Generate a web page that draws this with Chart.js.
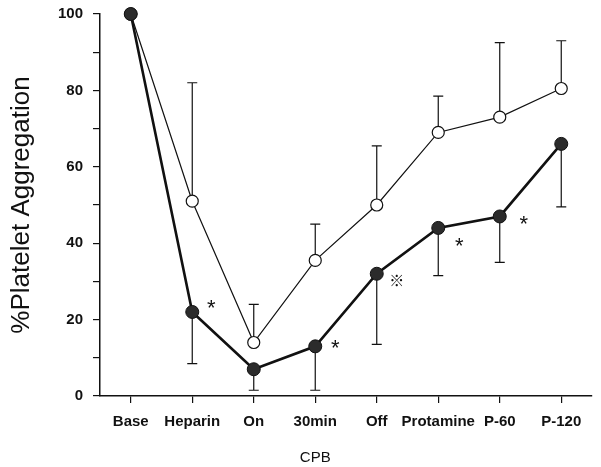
<!DOCTYPE html>
<html><head><meta charset="utf-8">
<script src="https://cdn.jsdelivr.net/npm/chart.js@4"></script>
<style>html,body{margin:0;padding:0;background:#fff}</style>
</head><body>
<canvas id="c" width="601" height="467"></canvas>
<script>
// values
const stages = ["Base", "Heparin", "On", "30min", "Off", "Protamine", "P-60", "P-120"];
const openMean = [100, 51, 14, 35.5, 50, 69, 73, 80.5];
const openUpper = [null, 82, 24, 45, 65.5, 78.5, 92.5, 93];
const filledMean = [100, 22, 7, 13, 32, 44, 47, 66];
const filledLower = [null, 8.5, 1.5, 1.5, 13.5, 31.5, 35, 49.5];
const filledMarks = ["", "*", "", "*", "※", "*", "*", ""];
const yTicks = [0, 20, 40, 60, 80, 100];
const groupLabel = "CPB";   // spans On / 30min / Off

const ink = '#111';

// where each significance mark sits relative to its point (px)
const markNudge = [null, [19, -5], null, [20, 1], [20, 8], [21, 17], [24, 6], null];

const extras = {
  id: 'extras',
  beforeDatasetsDraw(chart) {
    const { ctx, scales: { x, y } } = chart;
    ctx.save();
    ctx.strokeStyle = ink;
    ctx.lineWidth = 1.2;
    const bars = (means, ends) => means.forEach((m, i) => {
      if (ends[i] == null) return;
      const px = x.getPixelForValue(i);
      const y0 = y.getPixelForValue(m), y1 = y.getPixelForValue(ends[i]);
      ctx.beginPath();
      ctx.moveTo(px, y0); ctx.lineTo(px, y1);
      ctx.moveTo(px - 5, y1); ctx.lineTo(px + 5, y1);
      ctx.stroke();
    });
    bars(openMean, openUpper);
    bars(filledMean, filledLower);
    ctx.restore();
  },
  afterDatasetsDraw(chart) {
    const { ctx, scales: { x, y } } = chart;
    ctx.save();
    ctx.fillStyle = ink;
    ctx.textAlign = 'center';
    ctx.textBaseline = 'middle';
    filledMarks.forEach((m, i) => {
      if (!m) return;
      const [dx, dy] = markNudge[i];
      const px = x.getPixelForValue(i) + dx;
      const py = y.getPixelForValue(filledMean[i]) + dy;
      if (m === '*') {
        ctx.font = '22px "Liberation Sans"';
        ctx.fillText(m, px, py + 2);
      } else {
        ctx.font = '15px "Noto Sans CJK JP"';
        ctx.fillText(m, px, py - 1);
      }
    });
    // group label under the CPB stages
    ctx.font = '15px "Liberation Sans"';
    ctx.fillText(groupLabel, x.getPixelForValue(3), 458);
    ctx.restore();
  }
};

new Chart(document.getElementById('c'), {
  type: 'line',
  data: {
    labels: stages,
    datasets: [
      {
        label: 'filled',
        data: filledMean,
        borderColor: ink,
        borderWidth: 2.6,
        pointBackgroundColor: '#2b2b2b',
        pointBorderColor: ink,
        pointBorderWidth: 1,
        pointRadius: 6.5,
        clip: false,
        tension: 0
      },
      {
        label: 'open',
        data: openMean,
        borderColor: ink,
        borderWidth: 1.2,
        pointBackgroundColor: '#fff',
        pointBorderColor: ink,
        pointBorderWidth: 1.2,
        pointRadius: 6,
        clip: false,
        tension: 0
      }
    ]
  },
  options: {
    responsive: false,
    animation: false,
    events: [],
    layout: { padding: { top: 14, right: 9, left: 0, bottom: 0 } },
    plugins: { legend: { display: false }, tooltip: { enabled: false } },
    scales: {
      x: {
        offset: true,
        grid: { display: true, offset: false, drawOnChartArea: false, drawTicks: true, tickLength: 7, color: ink, lineWidth: 1.2 },
        border: { display: true, color: ink, width: 1.5 },
        ticks: { color: ink, padding: 10, autoSkip: false, maxRotation: 0, font: { family: 'Liberation Sans', size: 15, weight: 'bold' } },
        afterFit(s) { s.height = 71; }
      },
      y: {
        min: 0, max: 100,
        grid: { display: true, drawOnChartArea: false, drawTicks: true, tickLength: 7, color: ink, lineWidth: 1.2 },
        border: { display: true, color: ink, width: 1.5 },
        ticks: {
          stepSize: 10, color: ink, padding: 10,
          font: { family: 'Liberation Sans', size: 15, weight: 'bold' },
          callback: v => yTicks.includes(v) ? v : ''
        },
        title: { display: true, text: '%Platelet Aggregation', color: ink, padding: { top: 6, bottom: 0 }, font: { family: 'Liberation Sans', size: 26 } },
        afterFit(s) { s.width = 100; s.paddingTop = 0; s.paddingBottom = 0; }
      }
    }
  },
  plugins: [extras]
});
</script>
</body></html>
